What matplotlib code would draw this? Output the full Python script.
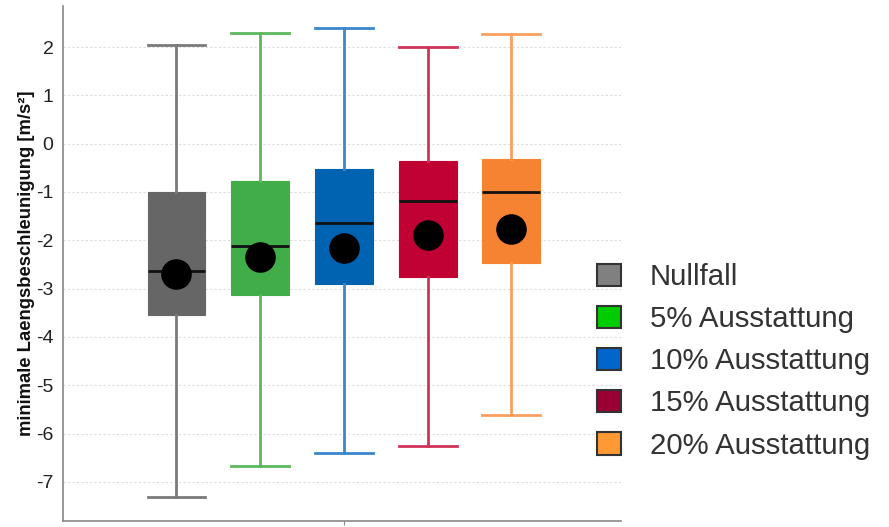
import matplotlib
matplotlib.use("Agg")
import matplotlib.pyplot as plt
from matplotlib.patches import Patch

plt.rcParams['font.family'] = ['Liberation Sans', 'DejaVu Sans']

labels = ["Nullfall", "5% Ausstattung", "10% Ausstattung", "15% Ausstattung", "20% Ausstattung"]
whis_hi = [2.035, 2.285, 2.39, 2.01, 2.26]
q3 = [-0.995, -0.766, -0.517, -0.366, -0.324]
medians = [-2.64, -2.114, -1.64, -1.193, -1.0]
q1 = [-3.55, -3.135, -2.90, -2.75, -2.48]
whis_lo = [-7.32, -6.67, -6.40, -6.26, -5.62]
means = [-2.69, -2.35, -2.15, -1.90, -1.76]

box_colors = ["#666666", "#41ad49", "#0063b1", "#c10034", "#f58331"]
whisker_colors = ["#7a7a7a", "#5cb85f", "#3a88cc", "#d03358", "#f9a060"]
legend_colors = ["#808080", "#00cc00", "#0066cc", "#990033", "#ff9933"]

fig = plt.figure(figsize=(8.89, 5.27), dpi=100)
ax = fig.add_axes([63.3/889, 1-521/527, (621-63.3)/889, (521-5.7)/527])

positions = [1, 2, 3, 4, 5]
for i in range(5):
    stats = [dict(med=medians[i], q1=q1[i], q3=q3[i], whislo=whis_lo[i],
                  whishi=whis_hi[i], mean=means[i], fliers=[], label=labels[i])]
    ax.bxp(stats, positions=[positions[i]], widths=0.69, patch_artist=True,
           showmeans=True, showfliers=False,
           boxprops=dict(facecolor=box_colors[i], edgecolor=box_colors[i], linewidth=0.8, alpha=1),
           whiskerprops=dict(color=whisker_colors[i], linewidth=2),
           capprops=dict(color=whisker_colors[i], linewidth=2),
           capwidths=0.69,
           medianprops=dict(color="#111111", linewidth=2),
           meanprops=dict(marker="o", markerfacecolor="black", markeredgecolor="black", markersize=21),
           zorder=3)

ax.set_xlim(-0.352, 6.31)
ax.set_ylim(-7.81, 2.855)
ax.set_yticks(range(-7, 3))
ax.set_yticklabels([str(v) for v in range(-7, 3)])
ax.set_xticks([3])
ax.set_xticklabels([""])
ax.tick_params(axis='y', length=0, labelsize=14, labelcolor="#222222", pad=7)
ax.tick_params(axis='x', length=3, color="#888888")
ax.yaxis.grid(True, linestyle=(0, (2, 2)), color="#dddddd", linewidth=0.8, zorder=0)
ax.set_axisbelow(True)
for s in ["top", "right"]:
    ax.spines[s].set_visible(False)
for s in ["left", "bottom"]:
    ax.spines[s].set_color("#888888")
    ax.spines[s].set_linewidth(1.2)

ax.set_ylabel("minimale Laengsbeschleunigung [m/s²]", fontsize=13.3, fontweight="bold",
              color="#111111")
ax.yaxis.set_label_coords(-(63.3-35)/(621-63.3), (521-263)/(521-5.7))

handles = [Patch(facecolor=c, edgecolor="#333333", linewidth=1.5) for c in legend_colors]
leg = fig.legend(handles, labels, loc="upper left", bbox_to_anchor=(597/889, 1-263/527),
                 frameon=False, fontsize=21.2, handlelength=0.8, handleheight=0.8,
                 labelspacing=0.48, handletextpad=1.0, borderaxespad=0, borderpad=0)
for t in leg.get_texts():
    t.set_color("#333333")

fig.savefig("out.png", dpi=100)
